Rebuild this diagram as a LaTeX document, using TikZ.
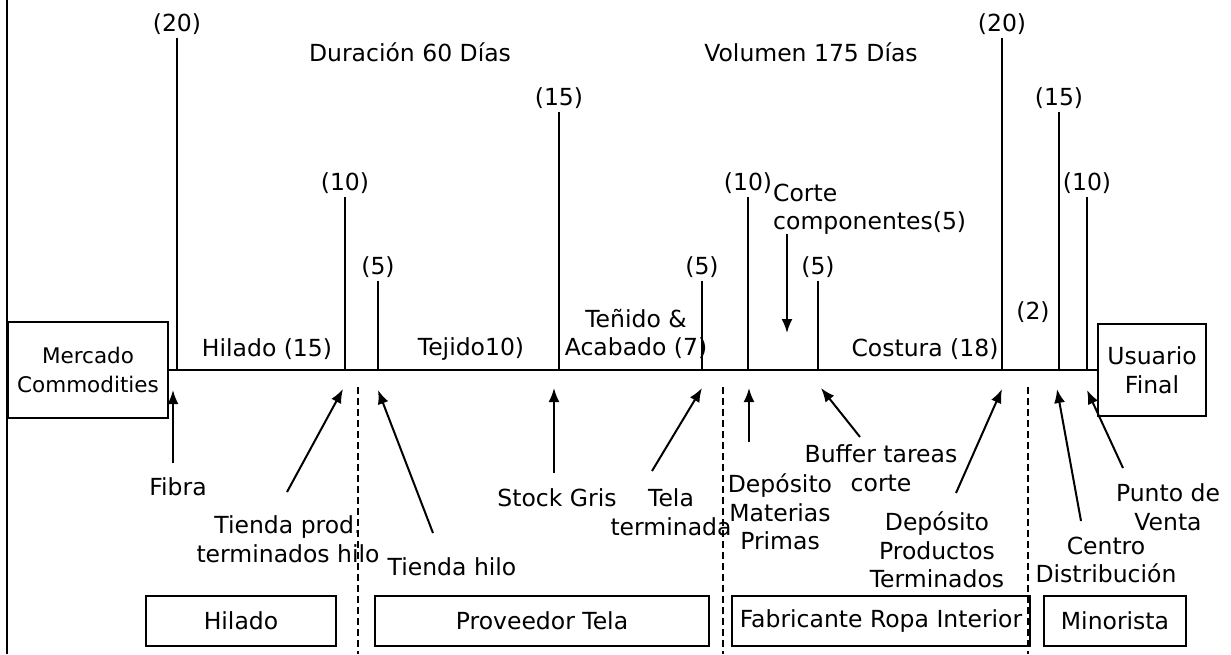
\documentclass[tikz,border=0pt]{standalone}
\usepackage{fontspec}
\setmainfont{DejaVu Sans}
\usepackage{tikz}
\usetikzlibrary{arrows.meta}

\tikzset{
  lbl/.style={inner sep=1pt, align=center},
  num/.style={inner sep=3pt},
  caja/.style={draw, line width=2pt, inner sep=2pt, minimum height=50pt, align=center},
  tick/.style={line width=2pt},
  flecha/.style={-{Latex[length=14pt,width=11pt]}, line width=2pt},
  sector/.style={dash pattern=on 7pt off 4pt, line width=2pt}
}

\begin{document}
\begin{tikzpicture}[x=1pt, y=-1pt, font=\fontsize{23.5}{28.5}\selectfont]
\useasboundingbox (0,0) rectangle (1231,654);
\draw[tick] (7,0) -- (7,654);

% ends of the chain
\node[caja, minimum width=160pt, minimum height=96pt, font=\fontsize{21.5}{29}\selectfont](merc) at (88,370) {Mercado\\Commodities};
\node[caja, minimum width=108pt, minimum height=92pt](usu) at (1152,370) {Usuario\\Final};
\draw[tick] (merc.east) -- (usu.west);

% headers
\node[lbl](dur) at (410,52) {Duración 60 Días};
\node[lbl](vol) at (811,52) {Volumen 175 Días};

% stock times
\node[num](t20a) at (177,24) {(20)};
\node[num](t10a) at (345,183) {(10)};
\node[num](t5a)  at (378,267) {(5)};
\node[num](t15a) at (559,98) {(15)};
\node[num](t5b)  at (702,267) {(5)};
\node[num](t10b) at (748,183) {(10)};
\node[num](t5c)  at (818,267) {(5)};
\node[num](t20b) at (1002,24) {(20)};
\node[num](t15b) at (1059,98) {(15)};
\node[num](t10c) at (1087,183) {(10)};
\node[num](t2)   at (1033,312) {(2)};
\draw[tick] (t20a.south) -- (t20a.south |- merc.east);
\draw[tick] (t10a.south) -- (t10a.south |- merc.east);
\draw[tick] (t5a.south) -- (t5a.south |- merc.east);
\draw[tick] (t15a.south) -- (t15a.south |- merc.east);
\draw[tick] (t5b.south) -- (t5b.south |- merc.east);
\draw[tick] (t10b.south) -- (t10b.south |- merc.east);
\draw[tick] (t5c.south) -- (t5c.south |- merc.east);
\draw[tick] (t20b.south) -- (t20b.south |- merc.east);
\draw[tick] (t15b.south) -- (t15b.south |- merc.east);
\draw[tick] (t10c.south) -- (t10c.south |- merc.east);

% processes
\node[lbl](hil) at (267,349) {Hilado (15)};
\node[lbl](tej) at (471,349) {Tejido10)};
\node[lbl](ten) at (636,334) {Teñido \&\\Acabado (7)};
\node[lbl](cos) at (925,349) {Costura (18)};
\node[lbl, align=left, anchor=west](cor) at (772,209) {Corte\\componentes(5)};
\coordinate (corS) at (787,234);
\coordinate (corE) at (787,333);
\draw[flecha] (corS) -- (corE);

% stocks below the line
\node[lbl](fib) at (178,487) {Fibra};
\node[lbl](tpt) at (288,539) {Tienda prod.\\terminados hilo};
\node[lbl](thi) at (452,567) {Tienda hilo};
\node[lbl](sgr) at (557,498) {Stock Gris};
\node[lbl](tte) at (671,512) {Tela\\terminada};
\node[lbl](dmp) at (780,512) {Depósito\\Materias\\Primas};
\node[lbl](btc) at (881,468) {Buffer tareas\\corte};
\node[lbl](dpt) at (937,550) {Depósito\\Productos\\Terminados};
\node[lbl](cdi) at (1106,560) {Centro\\Distribución};
\node[lbl](pve) at (1168,507) {Punto de\\Venta};

\coordinate (fibS) at (173,463);  \coordinate (fibE) at (173,390);
\coordinate (tptS) at (287,492);  \coordinate (tptE) at (343,389);
\coordinate (thiS) at (433,533);  \coordinate (thiE) at (378,390);
\coordinate (sgrS) at (554,473);  \coordinate (sgrE) at (554,388);
\coordinate (tteS) at (652,471);  \coordinate (tteE) at (702,388);
\coordinate (dmpS) at (749,442);  \coordinate (dmpE) at (749,388);
\coordinate (btcS) at (860,437);  \coordinate (btcE) at (821,388);
\coordinate (dptS) at (956,493);  \coordinate (dptE) at (1002,389);
\coordinate (cdiS) at (1081,521); \coordinate (cdiE) at (1057,389);
\coordinate (pveS) at (1123,468); \coordinate (pveE) at (1087,390);
\draw[flecha] (fibS) -- (fibE);
\draw[flecha] (tptS) -- (tptE);
\draw[flecha] (thiS) -- (thiE);
\draw[flecha] (sgrS) -- (sgrE);
\draw[flecha] (tteS) -- (tteE);
\draw[flecha] (dmpS) -- (dmpE);
\draw[flecha] (btcS) -- (btcE);
\draw[flecha] (dptS) -- (dptE);
\draw[flecha] (cdiS) -- (cdiE);
\draw[flecha] (pveS) -- (pveE);

% sectors
\draw[sector] (358,387) -- (358,654);
\draw[sector] (723,387) -- (723,654);
\draw[sector] (1028,387) -- (1028,654);
\node[caja, minimum width=190pt](bhil) at (241,621) {Hilado};
\node[caja, minimum width=334pt](bpro) at (542,621) {Proveedor Tela};
\node[caja, minimum width=298pt](bfab) at (881,621) {Fabricante Ropa Interior};
\node[caja, minimum width=142pt](bmin) at (1115,621) {Minorista};
\end{tikzpicture}
\end{document}
